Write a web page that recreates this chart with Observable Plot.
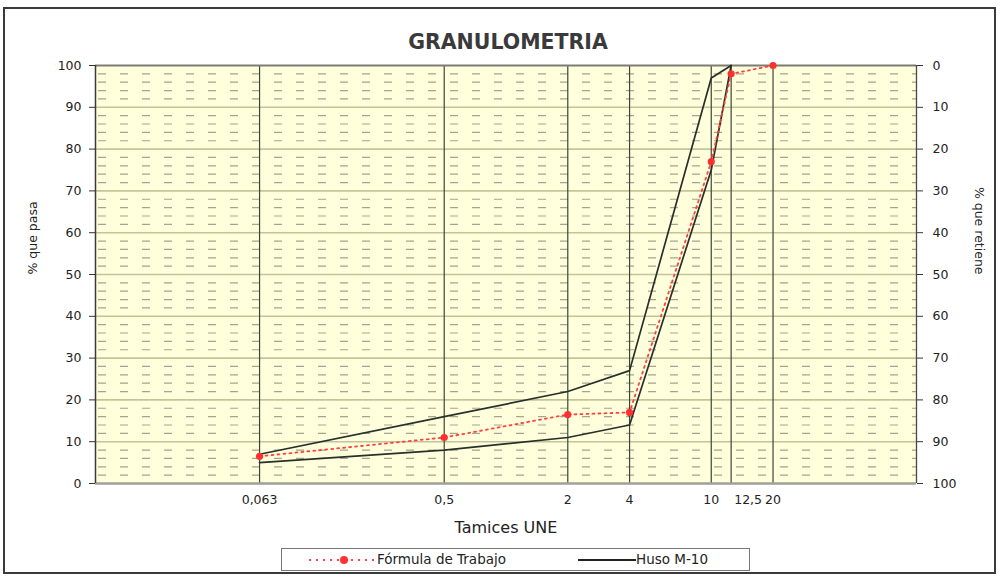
<!DOCTYPE html>
<html><head><meta charset="utf-8">
<script src="https://cdn.jsdelivr.net/npm/d3@7"></script>
<script src="https://cdn.jsdelivr.net/npm/@observablehq/plot@0.6"></script>
<style>
body{margin:0;background:#fff;}
#wrap{position:relative;width:1000px;height:577px;overflow:hidden;font-family:"DejaVu Sans",sans-serif;color:#222;}
#border{position:absolute;left:3px;top:7px;width:993px;height:567px;border:2px solid #3a3a3a;box-sizing:border-box;}
#chart{position:absolute;left:0;top:0;}
#title{position:absolute;top:31px;left:8px;width:1000px;text-align:center;font-weight:bold;font-size:20.5px;color:#3a3a3a;line-height:22px;}
#legend{position:absolute;left:281px;top:548px;width:469px;height:23px;border:1px solid #777;box-sizing:border-box;font-size:13.5px;line-height:21px;}
#legend .item{position:absolute;top:0;height:21px;white-space:nowrap;}
#legend svg{position:absolute;top:0;}
</style></head>
<body>
<div id="wrap">
  <div id="border"></div>
  <div id="chart"></div>
  <div id="title">GRANULOMETRIA</div>
  <div id="legend">
    <svg style="left:26px" width="70" height="21"><line x1="1" y1="11" x2="68" y2="11" stroke="#ff4444" stroke-width="2" stroke-dasharray="2,5"/><circle cx="36" cy="11" r="4" fill="#ff3333"/></svg>
    <div class="item" style="left:95px">Fórmula de Trabajo</div>
    <svg style="left:296px" width="58" height="21"><line x1="0" y1="11" x2="58" y2="11" stroke="#222" stroke-width="1.8"/></svg>
    <div class="item" style="left:354px">Huso M-10</div>
  </div>
</div>
<script>
const sieves = [0.063, 0.5, 2, 4, 10, 12.5, 20];
const sieveLabels = ["0,063", "0,5", "2", "4", "10", "12,5", "20"];
const formula = [6.5, 11, 16.5, 17, 77, 98, 100];
const husoSieves = [0.063, 0.5, 2, 4, 10, 12.5];
const husoUpper = [7, 16, 22, 27, 97, 100];
const husoLower = [5, 8, 11, 14, 75, 100];
const yTicks = [0, 10, 20, 30, 40, 50, 60, 70, 80, 90, 100];
const minorTicks = d3.range(2, 100, 2).filter(v => v % 10 !== 0);

const formulaData = sieves.map((s, i) => ({x: s, y: formula[i]}));
const upperData = husoSieves.map((s, i) => ({x: s, y: husoUpper[i]}));
const lowerData = husoSieves.map((s, i) => ({x: s, y: husoLower[i]}));
const tickData = sieves.map((s, i) => ({x: s, label: sieveLabels[i]}));

const chart = Plot.plot({
  width: 1000,
  height: 577,
  marginTop: 65,
  marginBottom: 94,
  marginLeft: 95,
  marginRight: 84,
  style: {fontFamily: "DejaVu Sans", fontSize: "12.5px", background: "transparent", color: "#222"},
  x: {type: "log", domain: [0.01, 100], axis: null},
  y: {domain: [0, 100], axis: null},
  marks: [
    Plot.frame({fill: "#ffffdc", stroke: null}),
    Plot.ruleY(minorTicks, {stroke: "#a4a490", strokeWidth: 1.2, strokeDasharray: "8,14", strokeDashoffset: -3}),
    Plot.ruleY(yTicks.filter(v => v > 0 && v < 100), {stroke: "#c4c49c", strokeWidth: 1.6}),
    Plot.ruleX(sieves, {stroke: "#3c4638", strokeWidth: 1.2}),
    Plot.ruleY([100], {stroke: "#7c7c74", strokeWidth: 2}),
    Plot.ruleY([0], {stroke: "#a0a098", strokeWidth: 2.5}),
    Plot.ruleX([0.01], {stroke: "#3a3a3a", strokeWidth: 1.5}),
    Plot.ruleX([100], {stroke: "#4a4a40", strokeWidth: 1.3}),
    Plot.line(upperData, {x: "x", y: "y", stroke: "#27302a", strokeWidth: 1.7}),
    Plot.line(lowerData, {x: "x", y: "y", stroke: "#27302a", strokeWidth: 1.7}),
    Plot.line(formulaData, {x: "x", y: "y", stroke: "#ff4040", strokeWidth: 1.8, strokeDasharray: "2,4"}),
    Plot.dot(formulaData, {x: "x", y: "y", r: 3.6, fill: "#ff3030"}),
    Plot.axisY({anchor: "left", ticks: yTicks, tickSize: 6, tickPadding: 8, label: null, stroke: "#333"}),
    Plot.axisY({anchor: "right", ticks: yTicks, tickSize: 6, tickPadding: 10, label: null, tickFormat: d => String(100 - d), stroke: "#333"}),
    Plot.text(tickData.filter(d => d.x !== 12.5), {x: "x", text: "label", frameAnchor: "bottom", dy: 20, fill: "#222"}),
    Plot.text(tickData.filter(d => d.x === 12.5), {x: "x", text: "label", frameAnchor: "bottom", dy: 20, dx: 17, fill: "#222"}),
    Plot.text(["Tamices UNE"], {frameAnchor: "bottom", dy: 49, fontSize: 16, fill: "#222"}),
    Plot.text(["% que pasa"], {frameAnchor: "left", dx: -63, rotate: -90, fontSize: 12.5, fill: "#222"}),
    Plot.text(["% que retiene"], {frameAnchor: "right", dx: 62, rotate: 90, fontSize: 12.5, fill: "#222"})
  ]
});
document.getElementById("chart").appendChild(chart);
</script>
</body></html>
